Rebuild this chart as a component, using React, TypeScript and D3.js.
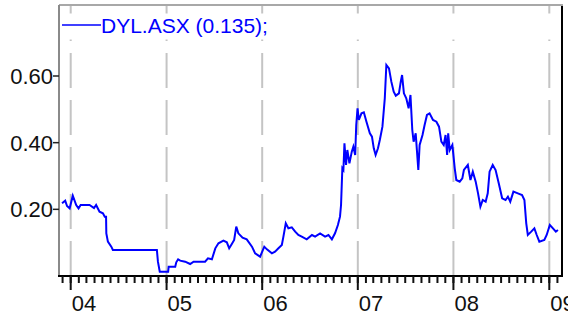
import React from "react";
import * as d3 from "d3";

const dates: string[] = [
  "2003-11-29","2003-12-11","2003-12-18","2003-12-28","2004-01-09","2004-01-22","2004-01-31","2004-02-08",
  "2004-03-13","2004-03-30","2004-04-07","2004-04-20","2004-05-03","2004-05-10","2004-05-15","2004-05-16",
  "2004-05-22","2004-06-04","2004-06-10","2004-11-25","2004-11-29","2004-12-06","2005-01-07","2005-01-09",
  "2005-02-03","2005-02-07","2005-02-14","2005-02-22","2005-03-13","2005-04-01","2005-04-14","2005-05-28",
  "2005-06-08","2005-06-23","2005-07-06","2005-07-18","2005-08-06","2005-08-19","2005-08-28","2005-09-07",
  "2005-09-16","2005-09-24","2005-10-02","2005-10-18","2005-11-03","2005-11-23","2005-12-05","2005-12-24",
  "2006-01-09","2006-01-19","2006-02-07","2006-02-19","2006-03-04","2006-03-17","2006-03-23","2006-04-01",
  "2006-04-11","2006-04-24","2006-05-07","2006-05-19","2006-06-01","2006-06-20","2006-07-10","2006-07-22",
  "2006-08-10","2006-08-29","2006-09-11","2006-09-24","2006-10-06","2006-10-17","2006-10-25","2006-10-29",
  "2006-11-03","2006-11-07","2006-11-11","2006-11-17","2006-11-22","2006-11-30","2006-12-09","2006-12-15",
  "2006-12-22","2006-12-26","2006-12-31","2007-01-05","2007-01-15","2007-01-24","2007-02-03","2007-02-16",
  "2007-02-24","2007-03-03","2007-03-10","2007-03-19","2007-03-26","2007-04-05","2007-04-14","2007-04-20",
  "2007-04-30","2007-05-09","2007-05-18","2007-05-26","2007-06-07","2007-06-14","2007-06-19","2007-06-26",
  "2007-07-05","2007-07-14","2007-07-21","2007-07-28","2007-08-02","2007-08-10","2007-08-15","2007-08-20",
  "2007-08-25","2007-09-05","2007-09-13","2007-09-22","2007-10-02","2007-10-15","2007-10-28","2007-11-07",
  "2007-11-16","2007-11-25","2007-12-02","2007-12-08","2007-12-12","2007-12-18","2007-12-28","2008-01-06",
  "2008-01-12","2008-01-25","2008-02-04","2008-02-10","2008-02-25","2008-03-06","2008-03-15","2008-03-26",
  "2008-04-04","2008-04-13","2008-04-22","2008-05-03","2008-05-11","2008-05-18","2008-05-30","2008-06-10",
  "2008-06-22","2008-07-05","2008-07-18","2008-07-27","2008-08-05","2008-08-17","2008-09-03","2008-09-19",
  "2008-09-28","2008-10-05","2008-10-11","2008-10-24","2008-11-05","2008-11-14","2008-11-24","2008-12-13",
  "2008-12-22","2009-01-03","2009-01-15","2009-01-26","2009-02-03"
];

const prices: number[] = [
  0.218,0.226,0.21,0.203,0.241,0.213,0.203,0.213,
  0.213,0.204,0.213,0.193,0.188,0.178,0.178,0.128,
  0.103,0.088,0.078,0.078,0.043,0.013,0.013,0.028,
  0.028,0.041,0.05,0.046,0.043,0.036,0.043,0.043,
  0.053,0.05,0.083,0.098,0.106,0.101,0.083,0.096,
  0.108,0.148,0.128,0.115,0.11,0.088,0.068,0.058,
  0.088,0.08,0.068,0.073,0.083,0.093,0.118,0.158,
  0.143,0.146,0.133,0.123,0.118,0.11,0.123,0.118,
  0.128,0.118,0.123,0.11,0.128,0.153,0.178,0.213,
  0.323,0.318,0.398,0.333,0.378,0.338,0.373,0.388,
  0.363,0.453,0.503,0.468,0.488,0.491,0.463,0.428,
  0.418,0.383,0.363,0.383,0.408,0.448,0.533,0.633,
  0.623,0.583,0.553,0.541,0.548,0.583,0.603,0.548,
  0.533,0.503,0.543,0.438,0.403,0.428,0.373,0.318,
  0.393,0.423,0.453,0.483,0.488,0.468,0.463,0.448,
  0.403,0.393,0.423,0.363,0.428,0.378,0.393,0.323,
  0.288,0.283,0.293,0.318,0.333,0.288,0.313,0.283,
  0.248,0.208,0.228,0.223,0.248,0.313,0.333,0.318,
  0.278,0.233,0.228,0.238,0.223,0.253,0.248,0.243,
  0.228,0.158,0.123,0.133,0.143,0.123,0.103,0.108,
  0.123,0.153,0.143,0.133,0.138
];

const yTicks: number[] = [0.2, 0.4, 0.6];
const yearLabels: string[] = ["04", "05", "06", "07", "08", "09"];
const legendLabel = "DYL.ASX (0.135);";

const W = 568;
const H = 316;
const left = 59;
const right = 562;
const top = 5;
const bottom = 276;

export default function App() {
  const parse = d3.timeParse("%Y-%m-%d");
  const data = dates.map((d, i) => ({ date: parse(d) as Date, v: prices[i] }));

  const x = d3
    .scaleTime()
    .domain([new Date(2004, 0, 1), new Date(2009, 0, 1)])
    .range([70.7, 549.3]);
  const y = d3.scaleLinear().domain([0, 0.813]).range([bottom, top]);

  const line = d3
    .line<{ date: Date; v: number }>()
    .x((d) => x(d.date))
    .y((d) => y(d.v));

  const years = d3.timeYear.range(new Date(2004, 0, 1), new Date(2009, 0, 2));
  const months = d3.timeMonth.range(x.invert(left), x.invert(right));

  const font = "'Liberation Sans', Arial, sans-serif";

  return (
    <svg
      width={W}
      height={H}
      style={{ position: "absolute", left: 0, top: 0, background: "#fff" }}
    >
      <defs>
        <clipPath id="plot">
          <rect x={left} y={top} width={right - left} height={bottom - top} />
        </clipPath>
      </defs>
      {/* gridlines */}
      {years.map((d, i) => (
        <line
          key={"g" + i}
          x1={x(d)}
          x2={x(d)}
          y1={bottom}
          y2={top}
          stroke="#c4c4c4"
          strokeWidth={2}
          strokeDasharray="35,12"
        />
      ))}
      {/* legend band */}
      <rect x={left + 1} y={13.5} width={right - left - 2} height={26} fill="#fff" />
      <line x1={62} x2={101} y1={25} y2={25} stroke="#0000ff" strokeWidth={1.5} />
      <text
        x={101}
        y={33}
        fontFamily={font}
        fontSize={21}
        fill="#0000ff"
      >
        {legendLabel}
      </text>

      {/* data line */}
      <path
        d={line(data) || ""}
        fill="none"
        stroke="#0000ff"
        strokeWidth={2}
        clipPath="url(#plot)"
      />

      {/* frame */}
      <line x1={left} x2={right + 1} y1={top} y2={top} stroke="#a8a8a8" strokeWidth={2} />
      <line x1={left} x2={left} y1={top} y2={bottom} stroke="#8a8a8a" strokeWidth={2} />
      <line x1={right} x2={right} y1={top + 1} y2={bottom} stroke="#000" strokeWidth={2} />
      <line x1={left - 1} x2={right + 1} y1={bottom} y2={bottom} stroke="#000" strokeWidth={2} />

      {/* y ticks */}
      {yTicks.map((t, i) => (
        <g key={"y" + i}>
          <line x1={53} x2={left} y1={y(t)} y2={y(t)} stroke="#222" strokeWidth={1.5} />
          <text
            x={53}
            y={y(t) + 8}
            textAnchor="end"
            fontFamily={font}
            fontSize={22}
            fill="#111"
          >
            {d3.format(".2f")(t)}
          </text>
        </g>
      ))}

      {/* x minor ticks */}
      {months.map((d, i) => (
        <line
          key={"m" + i}
          x1={x(d)}
          x2={x(d)}
          y1={bottom}
          y2={283}
          stroke="#111"
          strokeWidth={2}
        />
      ))}
      {/* x major ticks + labels */}
      {years.map((d, i) => (
        <g key={"x" + i}>
          <line x1={x(d)} x2={x(d)} y1={bottom} y2={290} stroke="#111" strokeWidth={2} />
          <text
            x={x(d) + 1}
            y={311}
            fontFamily={font}
            fontSize={22}
            fill="#111"
          >
            {yearLabels[i]}
          </text>
        </g>
      ))}
    </svg>
  );
}
